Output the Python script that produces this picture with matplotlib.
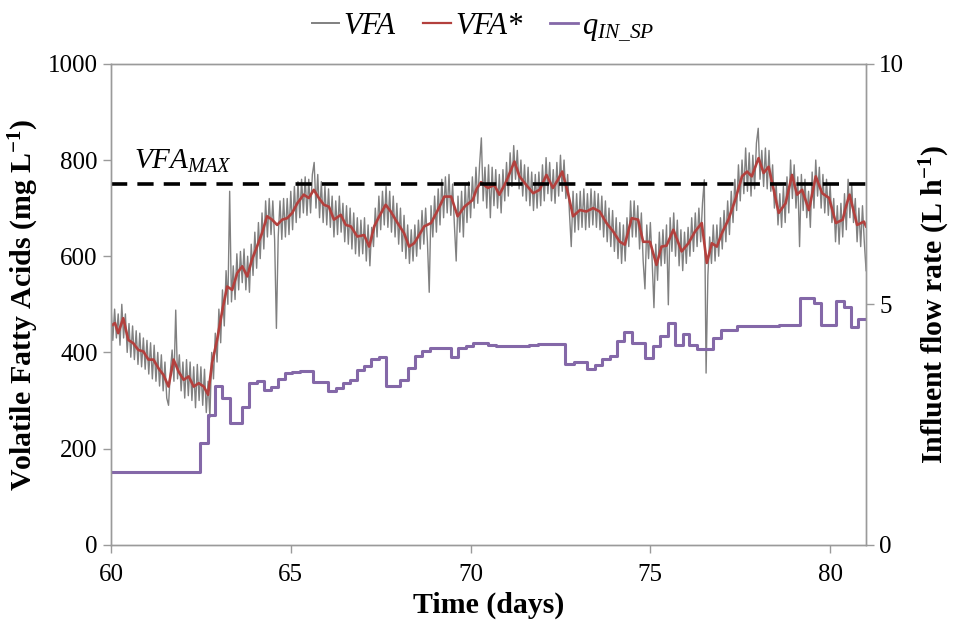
import numpy as np
import matplotlib
matplotlib.use('Agg')
import matplotlib.pyplot as plt
from matplotlib.lines import Line2D

plt.rcParams['font.family'] = 'Liberation Serif'
plt.rcParams['mathtext.fontset'] = 'custom'
plt.rcParams['mathtext.rm'] = 'Liberation Serif'
plt.rcParams['mathtext.it'] = 'Liberation Serif:italic'
plt.rcParams['mathtext.bf'] = 'Liberation Serif:bold'

# measured VFA (mg/L), one value every 0.05 day from 60 to 81 (20 per row = 1 day)
vfa_t = np.linspace(60, 81, 421)
vfa = [
    495, 425, 490, 430, 480, 415, 500, 430, 480, 400, 460, 390, 455, 385, 445, 375, 440, 370, 430, 365,
    425, 355, 420, 345, 415, 340, 400, 330, 395, 320, 380, 305, 290, 360, 405, 340, 488, 345, 395, 320,
    380, 305, 385, 310, 380, 300, 370, 285, 375, 300, 370, 290, 365, 275, 340, 265, 400, 345, 440, 380,
    490, 420, 530, 455, 570, 500, 735, 505, 580, 510, 605, 530, 610, 545, 615, 530, 600, 525, 625, 560,
    650, 575, 670, 595, 690, 615, 715, 640, 720, 645, 715, 635, 450, 640, 715, 635, 720, 640, 720, 645,
    735, 655, 745, 670, 755, 680, 760, 690, 765, 685, 760, 690, 770, 795, 700, 770, 680, 755, 670, 745,
    665, 740, 660, 725, 640, 715, 645, 725, 650, 710, 630, 705, 625, 700, 615, 690, 605, 680, 600, 675,
    605, 680, 590, 665, 580, 660, 620, 700, 640, 725, 655, 735, 665, 745, 660, 735, 650, 725, 640, 710,
    625, 700, 610, 685, 595, 665, 585, 655, 590, 665, 600, 675, 615, 695, 625, 700, 630, 525, 705, 640,
    725, 650, 740, 665, 760, 680, 765, 690, 770, 685, 750, 665, 590, 725, 650, 735, 640, 750, 670, 755,
    680, 765, 700, 785, 710, 790, 846, 715, 785, 700, 790, 680, 785, 705, 780, 700, 770, 690, 780, 715,
    795, 725, 815, 745, 830, 760, 820, 740, 800, 725, 790, 715, 785, 705, 775, 695, 770, 700, 775, 705,
    790, 715, 805, 730, 795, 715, 780, 710, 795, 725, 810, 735, 800, 720, 770, 690, 620, 735, 650, 730,
    655, 735, 660, 740, 655, 730, 660, 740, 665, 735, 660, 730, 655, 725, 640, 715, 630, 700, 620, 695,
    610, 680, 595, 670, 585, 665, 590, 680, 620, 715, 640, 715, 640, 705, 615, 690, 590, 532, 665, 595,
    670, 590, 493, 625, 550, 650, 580, 655, 585, 665, 499, 680, 610, 690, 600, 675, 580, 655, 570, 650,
    585, 660, 600, 680, 610, 690, 620, 700, 630, 710, 759, 357, 560, 640, 585, 665, 590, 665, 600, 680,
    615, 695, 630, 715, 645, 735, 670, 760, 695, 790, 715, 800, 730, 825, 735, 815, 725, 810, 740, 835,
    866, 760, 820, 745, 825, 740, 820, 735, 790, 700, 750, 665, 730, 660, 745, 670, 765, 690, 800, 720,
    790, 700, 765, 620, 770, 695, 760, 680, 735, 660, 775, 700, 800, 725, 785, 700, 770, 690, 760, 685,
    750, 670, 720, 630, 705, 625, 710, 640, 730, 655, 760, 680, 750, 670, 720, 630, 700, 620, 705, 630,
    570,
]

# filtered VFA*
vfa_f_t = [60.0, 60.11, 60.2, 60.34, 60.48, 60.62, 60.76, 60.9, 61.04, 61.18,
           61.32, 61.46, 61.6, 61.74, 61.88, 62.02, 62.16, 62.3, 62.44, 62.58,
           62.7, 62.81, 62.95, 63.09, 63.23, 63.37, 63.51, 63.65, 63.79, 63.92,
           64.06, 64.2, 64.34, 64.48, 64.62, 64.76, 64.9, 65.04, 65.18, 65.36,
           65.5, 65.64, 65.78, 65.92, 66.06, 66.2, 66.39, 66.53, 66.67, 66.85,
           67.04, 67.18, 67.32, 67.46, 67.64, 67.78, 67.97, 68.15, 68.29, 68.43,
           68.57, 68.71, 68.9, 69.09, 69.27, 69.46, 69.64, 69.83, 70.06, 70.17,
           70.29, 70.48, 70.66, 70.8, 70.99, 71.22, 71.36, 71.55, 71.74, 71.92,
           72.11, 72.29, 72.43, 72.55, 72.71, 72.85, 73.04, 73.22, 73.41, 73.59,
           73.78, 73.97, 74.15, 74.29, 74.48, 74.66, 74.8, 74.99, 75.17, 75.31,
           75.45, 75.64, 75.87, 76.06, 76.24, 76.43, 76.57, 76.71, 76.85, 76.99,
           77.17, 77.36, 77.55, 77.69, 77.82, 78.01, 78.15, 78.29, 78.43, 78.57,
           78.76, 78.94, 79.08, 79.22, 79.41, 79.6, 79.78, 79.97, 80.16, 80.35,
           80.44, 80.54, 80.75, 80.94, 81.0]
vfa_f = [455, 461, 440, 471, 426, 419, 405, 402, 385, 385,
         367, 353, 329, 385, 360, 343, 350, 329, 336, 329,
         312, 378, 426, 485, 537, 530, 565, 579, 558, 593,
         620, 648, 683, 676, 665, 676, 679, 690, 710, 728,
         721, 738, 721, 707, 703, 676, 686, 665, 662, 641,
         644, 620, 662, 683, 707, 693, 669, 648, 620, 627,
         644, 662, 669, 696, 724, 724, 683, 703, 717, 740,
         754, 742, 748, 728, 755, 797, 766, 748, 731, 738,
         769, 742, 759, 776, 731, 683, 696, 693, 700, 693,
         669, 651, 630, 624, 679, 676, 630, 630, 582, 620,
         622, 655, 610, 627, 651, 669, 586, 627, 620, 648,
         676, 717, 766, 776, 766, 804, 773, 786, 738, 690,
         710, 769, 728, 738, 696, 766, 731, 721, 669, 676,
         703, 728, 665, 672, 662]

# influent flow rate set point (L/h), value holds from each start time
q_t = [60.0, 62.48, 62.71, 62.9, 63.1, 63.3, 63.65, 63.83, 64.05, 64.25,
       64.45, 64.65, 64.83, 65.04, 65.27, 65.63, 66.04, 66.25, 66.45, 66.64,
       66.85, 67.03, 67.24, 67.45, 67.66, 68.05, 68.25, 68.45, 68.66, 68.87,
       69.08, 69.46, 69.66, 69.87, 70.06, 70.48, 70.71, 71.63, 71.87, 72.64,
       72.87, 73.25, 73.45, 73.66, 73.87, 74.08, 74.27, 74.48, 74.85, 75.08,
       75.27, 75.48, 75.68, 75.9, 76.08, 76.29, 76.75, 76.97, 77.4, 78.57,
       79.17, 79.54, 79.76, 80.15, 80.38, 80.59, 80.78, 81.0]
q_sp = [1.52, 2.12, 2.70, 3.31, 3.05, 2.53, 2.87, 3.36, 3.40, 3.22,
        3.29, 3.45, 3.57, 3.60, 3.62, 3.39, 3.19, 3.26, 3.36, 3.43,
        3.64, 3.72, 3.86, 3.91, 3.31, 3.43, 3.67, 3.93, 4.03, 4.09,
        4.10, 3.91, 4.09, 4.14, 4.19, 4.16, 4.14, 4.16, 4.18, 3.76,
        3.80, 3.65, 3.74, 3.86, 3.93, 4.23, 4.43, 4.19, 3.88, 4.14,
        4.35, 4.61, 4.16, 4.38, 4.16, 4.07, 4.30, 4.47, 4.54, 4.56,
        5.13, 5.02, 4.56, 5.06, 4.95, 4.52, 4.69, 4.69]

vfa_max = 750

gray = '#808080'
red = '#b3403d'
purple = '#8468a8'
spine = '#9a9a9a'

fig = plt.figure(figsize=(9.57, 6.32), dpi=100)
ax = fig.add_axes([0.116, 0.138, 0.789, 0.761])
ax2 = ax.twinx()

ax.plot(vfa_t, vfa, color=gray, lw=1.0, zorder=2)
ax.plot(vfa_f_t, vfa_f, color=red, lw=1.9, zorder=3)
ax.axhline(vfa_max, color='black', lw=2.6, ls=(0, (4.5, 2.8)), zorder=4)
ax.text(60.65, 768, r'$VFA_{MAX}$', fontsize=21, ha='left', va='bottom')

ax2.plot(q_t, q_sp, color=purple, lw=2.2, drawstyle='steps-post')

ax.set_xlim(60, 81)
ax.set_ylim(0, 1000)
ax2.set_ylim(0, 10)
ax.set_xticks([60, 65, 70, 75, 80])
ax.set_yticks(range(0, 1001, 200))
ax2.set_yticks([0, 5, 10])

for a in (ax, ax2):
    for s in a.spines.values():
        s.set_color(spine)
        s.set_linewidth(1.0)
    a.tick_params(labelsize=18, color=spine, length=6, width=1.0, direction='out')
ax.tick_params(axis='x', pad=8)

ax.set_xlabel('Time (days)', fontsize=21.5, fontweight='bold', labelpad=4)
ax.set_ylabel(r'Volatile Fatty Acids (mg L$^{\mathbf{-1}}$)', fontsize=21.5,
              fontweight='bold', labelpad=5)
ax2.set_ylabel(r'Influent flow rate (L h$^{\mathbf{-1}}$)', fontsize=21.5,
               fontweight='bold', labelpad=10)

handles = [Line2D([], [], color=gray, lw=1.4),
           Line2D([], [], color=red, lw=1.6),
           Line2D([], [], color=purple, lw=2.0)]
labels = ['VFA', 'VFA*', r'$q_{IN\_SP}$']
leg = fig.legend(handles, labels, loc='upper center', bbox_to_anchor=(0.505, 1.025),
                 ncol=3, frameon=False, fontsize=22, handlelength=0.9,
                 handletextpad=0.15, columnspacing=0.9)
for t in leg.get_texts()[:2]:
    t.set_fontstyle('italic')

fig.savefig('out.png', dpi=100)
